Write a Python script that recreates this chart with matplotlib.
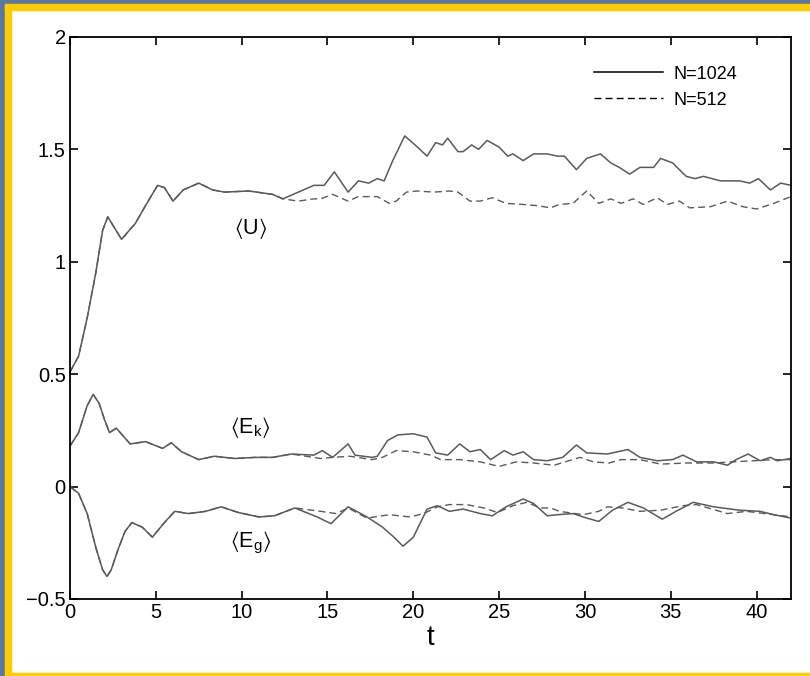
import numpy as np
import matplotlib.pyplot as plt
from matplotlib.patches import Rectangle

# <U>, both resolutions agree up to t ~ 12.4
t_u_early = [0, 0.5, 1.0, 1.5, 1.9, 2.2, 2.6, 3.0, 3.8, 4.4, 5.1, 5.5, 6.0, 6.6,
             7.5, 8.3, 9.0, 10.4, 11.8, 12.4]
u_early = [0.51, 0.58, 0.75, 0.95, 1.14, 1.20, 1.15, 1.10, 1.17, 1.25, 1.34, 1.33,
           1.27, 1.32, 1.35, 1.32, 1.31, 1.315, 1.30, 1.28]

t_u1024 = [13.3, 14.2, 14.8, 15.4, 16.2, 16.8, 17.4, 17.9, 18.3, 18.8, 19.5, 20.1,
           20.8, 21.3, 21.7, 22.0, 22.6, 22.9, 23.4, 23.8, 24.3, 25.0, 25.5, 25.8,
           26.4, 27.0, 27.8, 28.4, 28.8, 29.5, 30.1, 30.9, 31.5, 32.0, 32.6, 33.2,
           34.0, 34.4, 35.1, 35.9, 36.4, 36.9, 37.9, 39.0, 39.6, 40.1, 40.8, 41.4, 42.0]
u1024 = [1.31, 1.34, 1.34, 1.40, 1.31, 1.36, 1.35, 1.37, 1.36, 1.45, 1.56, 1.52,
         1.47, 1.53, 1.52, 1.55, 1.49, 1.49, 1.52, 1.50, 1.54, 1.51, 1.47, 1.48,
         1.45, 1.48, 1.48, 1.47, 1.47, 1.41, 1.46, 1.48, 1.44, 1.42, 1.39, 1.42,
         1.42, 1.46, 1.44, 1.38, 1.37, 1.38, 1.36, 1.36, 1.35, 1.37, 1.32, 1.35, 1.34]

t_u512 = [13.3, 14.2, 14.6, 15.3, 16.2, 16.8, 17.9, 18.6, 19.0, 19.6, 20.2, 21.2,
          22.1, 22.6, 23.3, 23.9, 24.6, 25.4, 26.4, 27.2, 28.0, 28.5, 29.3, 30.1,
          30.8, 31.5, 32.1, 32.8, 33.4, 34.2, 34.8, 35.5, 36.1, 37.3, 38.3, 39.2,
          40.0, 41.0, 42.0]
u512 = [1.27, 1.28, 1.28, 1.30, 1.27, 1.29, 1.29, 1.26, 1.27, 1.31, 1.315, 1.31,
        1.315, 1.31, 1.27, 1.27, 1.285, 1.26, 1.255, 1.25, 1.24, 1.255, 1.26, 1.315,
        1.26, 1.28, 1.26, 1.28, 1.255, 1.285, 1.255, 1.27, 1.24, 1.245, 1.27, 1.245,
        1.235, 1.26, 1.29]

# <Ek>
t_ek_early = [0, 0.5, 1.0, 1.35, 1.7, 2.0, 2.3, 2.7, 3.5, 4.4, 5.4, 5.9, 6.5, 7.5,
              8.4, 9.6, 10.8, 11.8, 12.9]
ek_early = [0.18, 0.24, 0.36, 0.41, 0.37, 0.30, 0.24, 0.26, 0.19, 0.20, 0.17, 0.195,
            0.155, 0.12, 0.135, 0.125, 0.13, 0.13, 0.145]

t_ek1024 = [14.2, 14.7, 15.3, 16.2, 16.6, 17.6, 17.9, 18.5, 19.1, 20.0, 20.8, 21.3,
            22.0, 22.7, 23.3, 23.9, 24.5, 25.3, 25.8, 26.4, 27.0, 27.8, 28.7, 29.5,
            30.1, 31.3, 32.5, 33.2, 34.2, 35.1, 35.7, 36.5, 37.5, 38.3, 38.8, 39.5,
            40.2, 40.8, 41.2, 42.0]
ek1024 = [0.14, 0.16, 0.13, 0.19, 0.14, 0.13, 0.135, 0.205, 0.23, 0.235, 0.22, 0.15,
          0.14, 0.19, 0.155, 0.165, 0.12, 0.16, 0.14, 0.155, 0.12, 0.115, 0.13, 0.185,
          0.15, 0.145, 0.165, 0.13, 0.115, 0.12, 0.14, 0.11, 0.11, 0.095, 0.12, 0.145,
          0.115, 0.13, 0.115, 0.125]

t_ek512 = [14.6, 15.3, 16.3, 17.6, 18.2, 19.0, 20.0, 21.0, 21.6, 22.7, 23.9, 25.0,
           26.0, 27.0, 28.2, 29.7, 30.5, 31.4, 32.1, 33.2, 34.4, 35.9, 37.5, 38.6,
           39.8, 41.0, 42.0]
ek512 = [0.125, 0.13, 0.135, 0.12, 0.13, 0.16, 0.155, 0.14, 0.12, 0.12, 0.11, 0.09,
         0.11, 0.105, 0.095, 0.13, 0.11, 0.105, 0.12, 0.12, 0.10, 0.105, 0.105, 0.11,
         0.115, 0.12, 0.12]

# <Eg>
t_eg_early = [0, 0.5, 1.0, 1.5, 1.9, 2.15, 2.4, 2.8, 3.2, 3.6, 4.2, 4.8, 5.5, 6.1,
              6.9, 7.9, 8.8, 9.8, 11.0, 11.9, 13.1]
eg_early = [0.0, -0.03, -0.12, -0.27, -0.37, -0.40, -0.37, -0.28, -0.20, -0.16, -0.18,
            -0.225, -0.16, -0.11, -0.12, -0.11, -0.09, -0.115, -0.135, -0.13, -0.095]

t_eg1024 = [14.4, 15.2, 16.2, 17.3, 18.2, 18.8, 19.4, 20.0, 20.8, 21.4, 22.1, 22.9,
            23.9, 24.6, 25.4, 26.4, 27.0, 27.8, 28.4, 29.3, 30.1, 30.8, 31.6, 32.5,
            33.4, 34.5, 35.3, 36.3, 37.5, 39.0, 40.2, 41.0, 42.0]
eg1024 = [-0.135, -0.165, -0.09, -0.135, -0.18, -0.22, -0.265, -0.225, -0.10, -0.085,
          -0.11, -0.10, -0.12, -0.13, -0.09, -0.055, -0.075, -0.13, -0.125, -0.12,
          -0.14, -0.155, -0.105, -0.07, -0.095, -0.145, -0.11, -0.07, -0.09, -0.105,
          -0.11, -0.125, -0.14]

t_eg512 = [14.6, 15.5, 16.2, 17.3, 18.6, 19.8, 20.6, 21.4, 22.1, 23.1, 24.1, 24.9,
           25.8, 26.6, 27.4, 28.0, 28.5, 29.9, 30.8, 31.3, 32.2, 33.2, 34.4, 35.7,
           36.5, 38.3, 39.4, 41.0, 42.0]
eg512 = [-0.11, -0.12, -0.095, -0.14, -0.125, -0.135, -0.12, -0.09, -0.08, -0.08,
         -0.095, -0.115, -0.085, -0.07, -0.095, -0.095, -0.11, -0.125, -0.11, -0.09,
         -0.095, -0.11, -0.105, -0.085, -0.08, -0.12, -0.11, -0.125, -0.135]

plt.rcParams['font.family'] = ['Liberation Sans', 'DejaVu Sans']
plt.rcParams['mathtext.fontset'] = 'custom'
plt.rcParams['mathtext.rm'] = 'Liberation Sans'
plt.rcParams['mathtext.default'] = 'regular'

fig = plt.figure(figsize=(8.1, 6.76), dpi=100, facecolor='white')

# blue backdrop and yellow frame around the page
W, H = 810, 676
frame = [((0, H - 5), W, 5, '#5878a0'), ((0, 0), 5, H, '#5878a0'),
         ((5, H - 10), W - 5, 6, '#ffcc00'), ((5, 0), 6, H - 5, '#ffcc00'),
         ((5, 0), W - 5, 3, '#ffcc00')]
for xy, w, h, c in frame:
    fig.patches.append(Rectangle((xy[0] / W, xy[1] / H), w / W, h / H,
                                 transform=fig.transFigure, color=c, zorder=0))

ax = fig.add_axes([70 / W, 77 / H, 721 / W, 562 / H])

col = '#5a5a5a'
ax.plot(t_u_early + t_u1024, u_early + u1024, color=col, lw=1.1, label='N=1024')
ax.plot(t_u_early + t_u512, u_early + u512, color=col, lw=1.0, ls=(0, (5, 3)),
        label='N=512')
ax.plot(t_ek_early + t_ek1024, ek_early + ek1024, color=col, lw=1.1)
ax.plot(t_ek_early + t_ek512, ek_early + ek512, color=col, lw=1.0, ls=(0, (5, 3)))
ax.plot(t_eg_early + t_eg1024, eg_early + eg1024, color=col, lw=1.1)
ax.plot(t_eg_early + t_eg512, eg_early + eg512, color=col, lw=1.0, ls=(0, (5, 3)))

ax.text(10.5, 1.15, r'$\langle$U$\rangle$', fontsize=15.5, ha='center', va='center')
ax.text(10.5, 0.265, r'$\langle$E$_k\rangle$', fontsize=15.5, ha='center', va='center')
ax.text(10.5, -0.25, r'$\langle$E$_g\rangle$', fontsize=15.5, ha='center', va='center')

ax.set_xlim(0, 42)
ax.set_ylim(-0.5, 2)
ax.set_xticks([0, 5, 10, 15, 20, 25, 30, 35, 40])
ax.set_yticks([-0.5, 0, 0.5, 1, 1.5, 2])
ax.set_yticklabels(['\u22120.5', '0', '0.5', '1', '1.5', '2'])
ax.tick_params(direction='in', length=6, width=1.2, top=True, right=True,
               labelsize=14.5, pad=3)
for s in ax.spines.values():
    s.set_linewidth(1.3)
ax.set_xlabel('t', fontsize=20, labelpad=2)

leg = ax.legend(loc='upper right', bbox_to_anchor=(0.948, 0.978), frameon=False,
                fontsize=13, handlelength=3.8, handletextpad=0.6, labelspacing=0.5)
for line in leg.get_lines():
    line.set_color('black')

fig.savefig('out.png', dpi=100, facecolor=fig.get_facecolor())
